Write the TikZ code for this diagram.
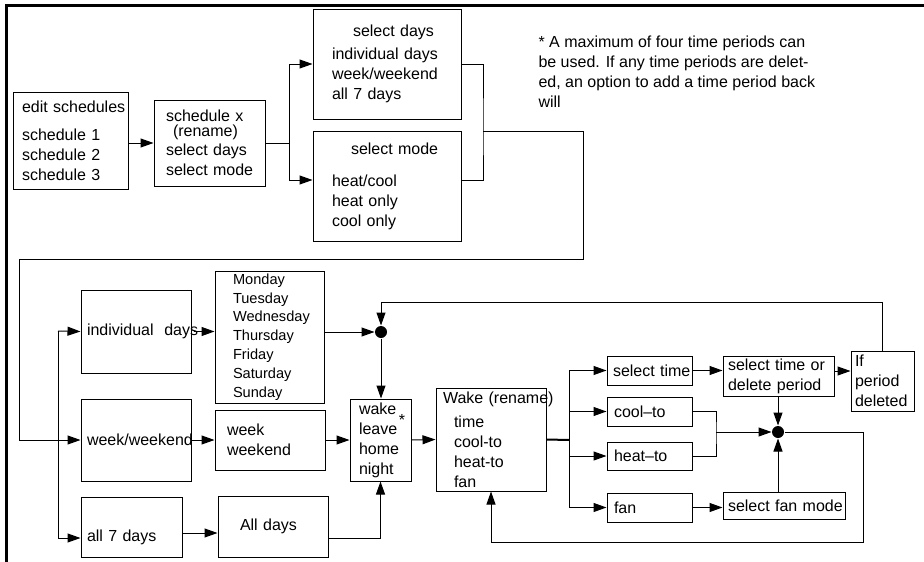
\documentclass[tikz,border=0pt]{standalone}
\usepackage{fontspec}
\setmainfont{Liberation Sans}
\usetikzlibrary{arrows.meta,positioning,calc}
\hyphenpenalty=10000
\exhyphenpenalty=10000
\tikzset{
  % Base styles
  diagram base/.style={
    x=1pt, y=-1pt,
    line width=1pt,
    every node/.style={font=\fontsize{16}{20}\selectfont},
  },
  arr/.style={-{Triangle[length=13pt,width=9pt]}},
  % Menu boxes
  menu box/.style={rectangle, draw, line width=1pt, inner ysep=0pt, align=left},
  junction/.style={circle, fill, inner sep=0pt, minimum size=12pt},
  note text/.style={inner sep=0pt, align=left},
}

\begin{document}
\begin{tikzpicture}[diagram base]
  \useasboundingbox (0,0) rectangle (924,562);
  \draw[line width=3pt] (6,562) -- (6,5.5) -- (924,5.5);

  % schedule menus
  \node[menu box, minimum width=115pt, minimum height=97pt, text width=97pt, inner xsep=9pt] (edit) at (70.5,140.5)
    {edit~schedules\\[8pt]schedule~1\\schedule~2\\schedule~3};
  \node[menu box, minimum width=111pt, minimum height=86pt, text width=87pt, inner xsep=12pt] (sched) at (209.5,143)
    {schedule~x\\[-5pt]\hspace*{7pt}(rename)\\[-1pt]select~days\\select~mode};
  \node[menu box, minimum width=148pt, minimum height=110pt, text width=110pt, inner xsep=19pt] (seldays) at (387,64)
    {\hspace*{21pt}select~days\\[3pt]individual~days\\week/weekend\\all~7~days};
  \node[menu box, minimum width=148pt, minimum height=110pt, text width=110pt, inner xsep=19pt] (selmode) at (387,186)
    {\hspace*{19pt}select~mode\\[12pt]heat/cool\\heat~only\\cool~only};
  \node[note text, anchor=north west] (note) at (538,35)
    {* A maximum of four time periods can\\be used. If any time periods are delet-\\ed, an option to add a time period back\\will};

  % day menus
  \node[menu box, minimum width=110pt, minimum height=83pt, text width=98pt, inner xsep=6pt] (indiv) at (136,331.5)
    {individual~~days};
  \node[menu box, minimum width=110pt, minimum height=82pt, text width=98pt, inner xsep=6pt] (wkwe) at (136,440)
    {week/weekend};
  \node[menu box, minimum width=101pt, minimum height=60pt, text width=89pt, inner xsep=6pt] (all7) at (131.5,527)
    {\raisebox{-10pt}[\height][\depth]{all~7~days}};
  \node[menu box, minimum width=109pt, minimum height=132pt, text width=73pt, inner xsep=18pt,
    font=\fontsize{14.6}{18.8}\selectfont] (days) at (269.5,337)
    {Monday\\Tuesday\\Wednesday\\Thursday\\Friday\\Saturday\\Sunday};
  \node[menu box, minimum width=110pt, minimum height=60pt, text width=86pt, inner xsep=12pt] (week) at (270,440)
    {week\\weekend};
  \node[menu box, minimum width=110pt, minimum height=61pt, text width=66pt, inner xsep=22pt] (alldays) at (273,526.5)
    {All~days};
  \node[junction] (dot1) at (381,332) {};
  \node[menu box, minimum width=61pt, minimum height=82pt, text width=43pt, inner xsep=9pt] (wake) at (380.5,440)
    {wake\\leave\\home\\night};
  \node[inner sep=0pt, anchor=base] (star) at (402,425) {*};

  % time period menus
  \node[menu box, minimum width=110pt, minimum height=103pt, text width=96pt, inner xsep=7pt] (wakeren) at (491,439.5)
    {Wake~(rename)\\[4pt]\hspace*{11pt}time\\\hspace*{11pt}cool-to\\\hspace*{11pt}heat-to\\\hspace*{11pt}fan};
  \node[menu box, minimum width=85pt, minimum height=29pt, text width=73pt, inner xsep=6pt] (seltime) at (649.5,370.5)
    {select~time};
  \node[menu box, minimum width=85pt, minimum height=29pt, text width=71pt, inner xsep=7pt] (coolto) at (649.5,411.5)
    {cool\textendash to};
  \node[menu box, minimum width=85pt, minimum height=28pt, text width=71pt, inner xsep=7pt] (heatto) at (649.5,456)
    {heat\textendash to};
  \node[menu box, minimum width=85pt, minimum height=29pt, text width=71pt, inner xsep=7pt] (fan) at (649.5,507.5)
    {fan};
  \node[menu box, minimum width=111pt, minimum height=40pt, text width=101pt, inner xsep=5pt] (seltimeor) at (778.5,376)
    {select~time~or\\delete~period};
  \node[menu box, minimum width=63pt, minimum height=60pt, text width=55pt, inner xsep=4pt] (ifdel) at (882.5,381)
    {If\\period\\deleted};
  \node[menu box, minimum width=122pt, minimum height=27pt, text width=112pt, inner xsep=5pt] (selfan) at (784,505.5)
    {select~fan~mode};
  \node[junction] (dot2) at (778,432) {};

  \coordinate (s1) at (289,143);
  \coordinate (j1) at (483,131);
  \coordinate (loopR) at (583,259);
  \coordinate (loopL) at (19,259);
  \coordinate (bus) at (58,331);
  \coordinate (fork) at (569,440);
  \coordinate (merge) at (716,432);
  \coordinate (back) at (863,542);

  % top row
  \draw[arr] (edit.east |- sched) -- (sched.west);
  \draw (sched.east) -- (s1);
  \draw[arr] (s1) |- (seldays.west);
  \draw[arr] (s1) |- ([yshift=6pt]selmode.west);
  \draw (seldays.east) -| (j1) |- ([yshift=6pt]selmode.east);
  \draw[arr] (j1) -| (loopR) -- (loopL) |- (wkwe.west);

  % day selection
  \draw[arr] (bus) -- (indiv.west);
  \draw[arr] (bus) |- ([yshift=-11pt]all7.west);
  \draw[arr] ([xshift=2pt]indiv.east) -- (days.west |- indiv);
  \draw[arr] (wkwe.east) -- (week.west);
  \draw[arr] ([yshift=-6pt]all7.east) -- ([yshift=-6pt]all7.east -| alldays.west);
  \draw[arr] (days.east |- dot1) -- (dot1.west);
  \draw[arr] (dot1.south) -- (dot1 |- wake.north);
  \draw[arr] (week.east) -- (wake.west);
  \draw[arr] ([yshift=-11.5pt]alldays.east) -| (wake.south);
  \draw[arr] (wake.east) -- (wakeren.west);

  % time period settings
  \draw[line width=2pt] (wakeren.east) -- (fork);
  \draw[arr] (fork) |- (seltime.west);
  \draw[arr] (fork) |- (coolto.west);
  \draw[arr] (fork) |- (heatto.west);
  \draw[arr] (fork) |- (fan.west);
  \draw[arr] (seltime.east) -- (seltime.east -| seltimeor.west);
  \draw[arr] ([yshift=5pt]seltimeor.east) -- ([yshift=5pt]seltimeor.east -| ifdel.west);
  \draw[arr] (ifdel.north) -- ++(0,-48) -| (dot1.north);
  \draw[arr] (dot2 |- seltimeor.south) -- (dot2.north);
  \draw (coolto.east) -| (merge) |- (heatto.east);
  \draw[arr] (merge) -- (dot2.west);
  \draw[arr] (fan.east) -- (fan.east -| selfan.west);
  \draw[arr] (dot2 |- selfan.north) -- (dot2.south);
  \draw[arr] (dot2.east) -| (back) -| (wakeren.south);
\end{tikzpicture}
\end{document}
